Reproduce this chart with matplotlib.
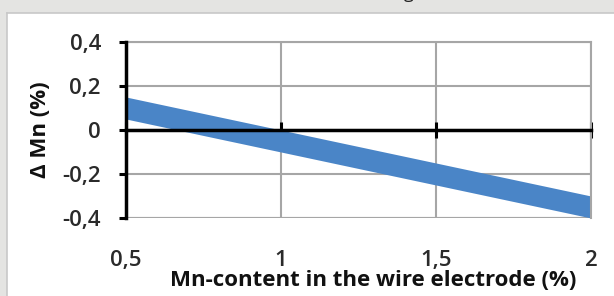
import matplotlib
matplotlib.use("Agg")
import matplotlib.pyplot as plt
import matplotlib.transforms as mtransforms
from matplotlib.patches import Rectangle
from matplotlib.lines import Line2D

# Data
x_vals = [0.5, 2.0]
band_upper = [0.15, -0.30]
band_lower = [0.05, -0.40]
x_ticks = [0.5, 1.0, 1.5, 2.0]
x_tick_labels = ["0,5", "1", "1,5", "2"]
y_ticks = [-0.4, -0.2, 0.0, 0.2, 0.4]
y_tick_labels = ["-0,4", "-0,2", "0", "0,2", "0,4"]
x_label = "Mn-content in the wire electrode (%)"
y_label = "\u0394 Mn (%)"

plt.rcParams['font.family'] = ['Open Sans', 'DejaVu Sans']

W, H = 614, 296
fig = plt.figure(figsize=(W / 100, H / 100), dpi=100)
fig.patch.set_facecolor('white')

# background frame (gray strip top/left, light border)
fig.patches.append(Rectangle((0, 1 - 13 / H), 1, 13 / H, transform=fig.transFigure,
                             facecolor='#e4e4e2', edgecolor='none', zorder=0))
fig.patches.append(Rectangle((0, 0), 7 / W, 1, transform=fig.transFigure,
                             facecolor='#e4e4e2', edgecolor='none', zorder=0))
fig.lines.append(Line2D([7 / W, 7 / W], [0, 1 - 13 / H], transform=fig.transFigure,
                        color='#c8c8c8', lw=1.2))
fig.lines.append(Line2D([7 / W, 1], [1 - 13 / H, 1 - 13 / H], transform=fig.transFigure,
                        color='#c8c8c8', lw=1.2))
# cut-off caption descender at top
fig.text(404 / W, 1 + 2 / H, "g", fontsize=13, va='baseline', ha='left', color='#222222')

ax = fig.add_axes([126 / W, 1 - 218 / H, (591 - 126) / W, (218 - 42) / H])
ax.set_facecolor('white')
ax.set_xlim(0.5, 2.0)
ax.set_ylim(-0.4, 0.4)

ax.fill_between(x_vals, band_lower, band_upper, color='#4a85c7', lw=0, zorder=2)

# grid
ax.set_xticks(x_ticks)
ax.set_yticks(y_ticks)
ax.grid(True, color='#a6a6a6', lw=1.5, zorder=1)
ax.set_axisbelow(True)

for s in ['top', 'right']:
    ax.spines[s].set_visible(True)
    ax.spines[s].set_color('#a6a6a6')
    ax.spines[s].set_linewidth(1.5)
ax.spines['left'].set_color('black')
ax.spines['left'].set_linewidth(2.5)
ax.spines['bottom'].set_position(('data', 0))
ax.spines['bottom'].set_color('black')
ax.spines['bottom'].set_linewidth(2.5)
ax.spines['bottom'].set_zorder(3)
ax.spines['left'].set_zorder(3)
# bottom grid line at -0.4
ax.axhline(-0.4, color='#a6a6a6', lw=1.5, zorder=1)

ax.tick_params(axis='y', direction='out', length=5, width=2.2, color='black',
               labelsize=16, labelcolor='#2a2a2a', pad=13)
ax.set_yticklabels(y_tick_labels, fontweight='semibold')
ax.tick_params(axis='x', direction='inout', length=11, width=2.2, color='black',
               labelbottom=False)

offset = mtransforms.ScaledTranslation(0, -32 / 100, fig.dpi_scale_trans)
for xv, lab in zip(x_ticks, x_tick_labels):
    ax.text(xv, -0.4, lab, transform=ax.transData + offset,
            ha='center', va='top', fontsize=16, color='#2a2a2a', fontweight='semibold')

fig.text(373 / W, 1 - 280 / H, x_label, ha='center', va='center', fontsize=16,
         fontweight='bold', color='#111111')
fig.text(41 / W, 1 - 130 / H, y_label, ha='center', va='center', fontsize=16,
         fontweight='bold', rotation=90, color='#111111')

fig.savefig('out.png', dpi=100, facecolor=fig.get_facecolor())
